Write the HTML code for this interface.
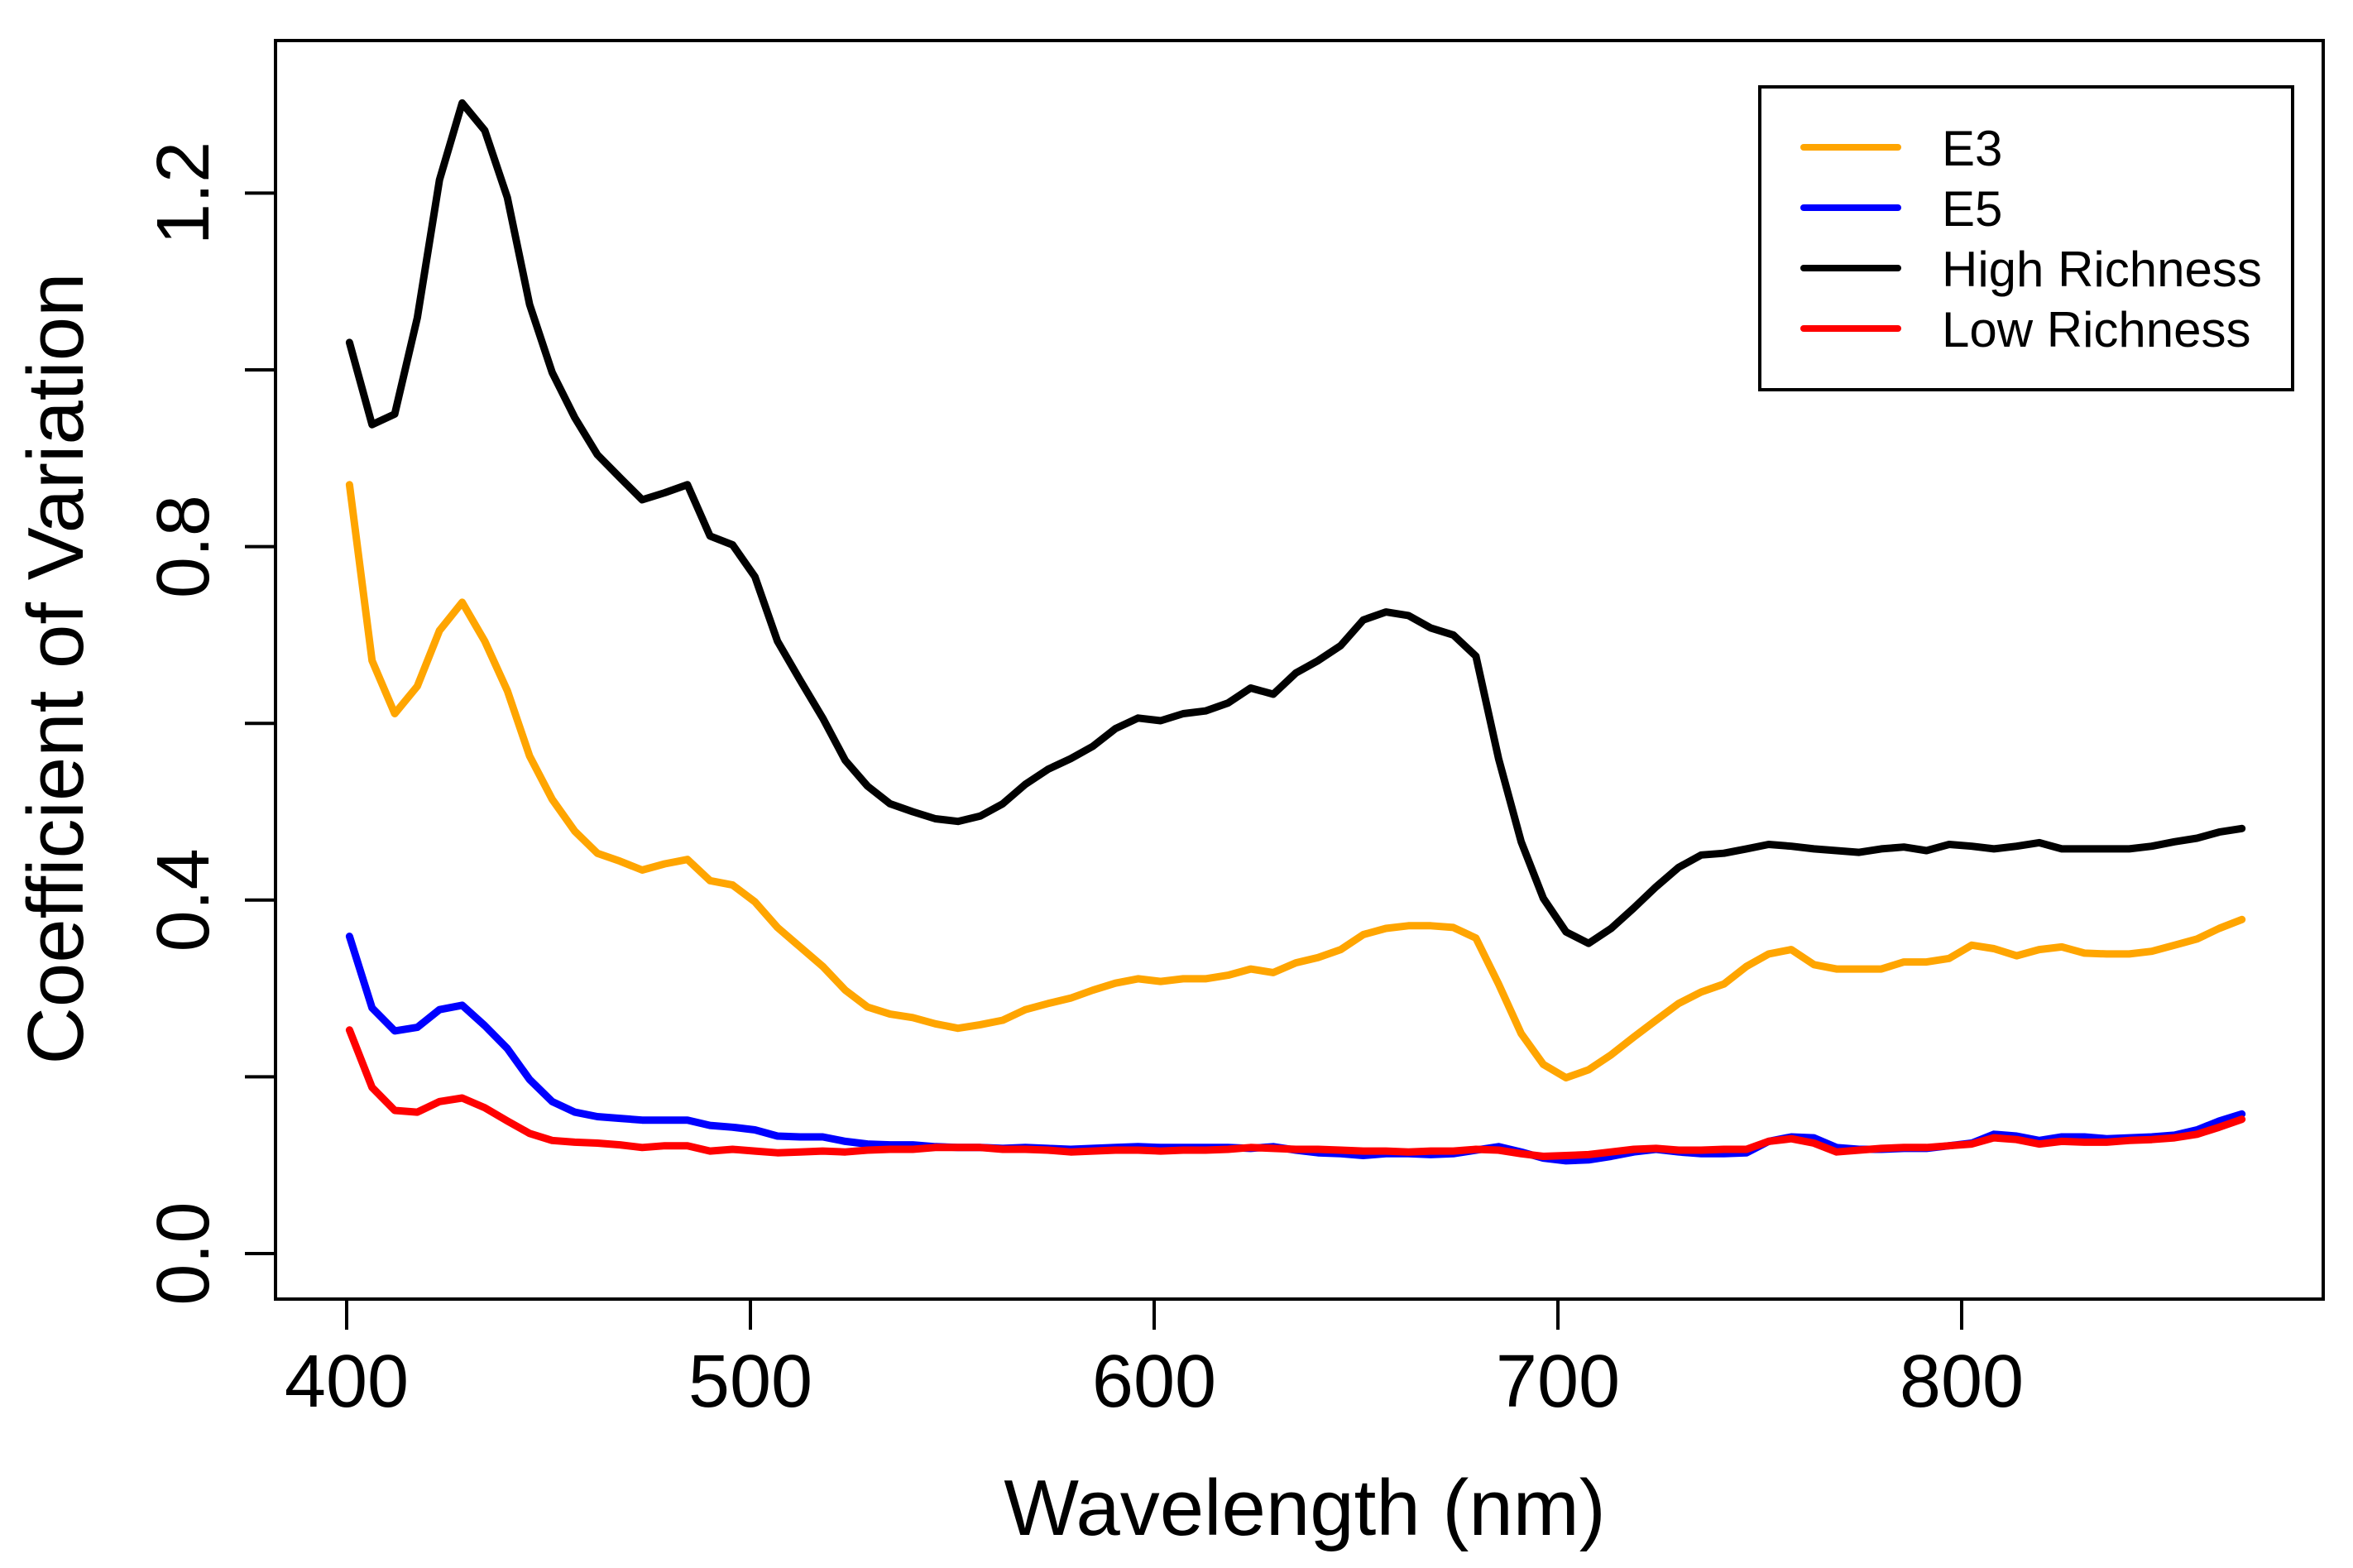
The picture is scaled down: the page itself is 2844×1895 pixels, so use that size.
<!DOCTYPE html>
<html><head><meta charset="utf-8"><style>
html,body{margin:0;padding:0;background:#fff;}
svg{display:block;font-family:"Liberation Sans",Arial,sans-serif;}
</style></head><body>
<svg id="chart" width="2844" height="1895" viewBox="0 0 2844 1895" xmlns="http://www.w3.org/2000/svg">
<rect x="0" y="0" width="2844" height="1895" fill="#fff"/>
<g id="axes"></g>
<g id="series"></g>
<g>
<rect x="2127" y="105" width="644" height="366" fill="#fff" stroke="#000" stroke-width="4"/>
<line x1="2180" y1="178" x2="2294" y2="178" stroke="#FFA500" stroke-width="8" stroke-linecap="round"/>
<line x1="2180" y1="251" x2="2294" y2="251" stroke="#0000FF" stroke-width="8" stroke-linecap="round"/>
<line x1="2180" y1="324" x2="2294" y2="324" stroke="#000" stroke-width="8" stroke-linecap="round"/>
<line x1="2180" y1="397" x2="2294" y2="397" stroke="#FF0000" stroke-width="8" stroke-linecap="round"/>
<text x="2347" y="200" font-size="60">E3</text>
<text x="2347" y="273" font-size="60">E5</text>
<text x="2347" y="346" font-size="60">High Richness</text>
<text x="2347" y="419" font-size="60">Low Richness</text>
</g>
<text x="1577" y="1855" font-size="96" text-anchor="middle">Wavelength (nm)</text>
<text transform="translate(100,808) rotate(-90)" x="0" y="0" font-size="96" text-anchor="middle">Coefficient of Variation</text>
</svg>
<script>
const wavelengths = [400.7,406.3,411.9,417.5,423.0,428.6,434.2,439.8,445.3,450.9,456.5,462.1,467.7,473.2,478.8,484.4,490.0,495.6,501.1,506.7,512.3,517.9,523.5,529.0,534.6,540.2,545.8,551.4,556.9,562.5,568.1,573.7,579.3,584.8,590.4,596.0,601.6,607.2,612.7,618.3,623.9,629.5,635.1,640.6,646.2,651.8,657.4,663.0,668.5,674.1,679.7,685.3,690.9,696.4,702.0,707.6,713.2,718.8,724.3,729.9,735.5,741.1,746.7,752.2,757.8,763.4,769.0,774.6,780.1,785.7,791.3,796.9,802.5,808.0,813.6,819.2,824.8,830.4,835.9,841.5,847.1,852.7,858.3,863.8,869.4];
const e3Values = [.870,.671,.611,.642,.705,.737,.693,.637,.563,.514,.478,.453,.444,.434,.441,.446,.422,.417,.398,.369,.347,.325,.298,.279,.271,.267,.260,.255,.259,.264,.276,.283,.289,.298,.306,.311,.308,.311,.311,.315,.322,.318,.329,.335,.344,.361,.368,.371,.371,.369,.357,.305,.249,.214,.199,.208,.225,.245,.264,.283,.296,.305,.325,.339,.344,.327,.322,.322,.322,.330,.330,.334,.349,.345,.337,.344,.347,.340,.339,.339,.342,.349,.356,.368,.378];
const e5Values = [.359,.278,.252,.256,.276,.281,.258,.232,.197,.172,.160,.155,.153,.151,.151,.151,.145,.143,.140,.133,.132,.132,.127,.124,.123,.123,.121,.120,.120,.119,.120,.119,.118,.119,.120,.121,.120,.120,.120,.120,.119,.121,.117,.114,.113,.111,.113,.113,.112,.113,.117,.121,.115,.108,.105,.106,.110,.115,.118,.115,.113,.113,.114,.127,.132,.131,.120,.118,.118,.119,.119,.122,.125,.135,.133,.128,.132,.132,.130,.131,.132,.134,.140,.150,.158];
const highValues = [1.031,.938,.950,1.059,1.215,1.302,1.271,1.195,1.074,.997,.946,.904,.878,.853,.861,.870,.812,.802,.766,.693,.649,.606,.558,.529,.509,.500,.492,.489,.495,.509,.531,.548,.560,.574,.594,.606,.603,.611,.614,.623,.640,.633,.657,.671,.688,.717,.726,.722,.708,.700,.676,.560,.466,.402,.364,.351,.368,.391,.415,.437,.451,.453,.458,.463,.461,.458,.456,.454,.458,.460,.456,.463,.461,.458,.461,.465,.458,.458,.458,.458,.461,.466,.470,.477,.481];
const lowValues = [.253,.188,.162,.160,.172,.176,.165,.150,.136,.128,.126,.125,.123,.120,.122,.122,.116,.118,.116,.114,.115,.116,.115,.117,.118,.118,.120,.120,.120,.118,.118,.117,.115,.116,.117,.117,.116,.117,.117,.118,.120,.119,.118,.118,.117,.116,.116,.115,.116,.116,.118,.117,.113,.110,.111,.112,.115,.118,.119,.117,.117,.118,.118,.127,.130,.125,.115,.117,.119,.120,.120,.122,.124,.131,.129,.124,.127,.126,.126,.128,.129,.131,.135,.143,.152];
const xTicks = [400,500,600,700,800];
const xTickLabels = ["400","500","600","700","800"];
const yTicks = [0,0.2,0.4,0.6,0.8,1.0,1.2];
const yLabelTicks = [0,0.4,0.8,1.2];
const yTickLabels = ["0.0","0.4","0.8","1.2"];

const NS = "http://www.w3.org/2000/svg";
function xScale(w){ return 419 + (w - 400) * 4.88; }
function yScale(v){ return 1515 - v * 1068; }
function mk(tag, attrs){ const e = document.createElementNS(NS, tag); for (const k in attrs) e.setAttribute(k, attrs[k]); return e; }

const axes = document.getElementById('axes');
const frame = mk('rect', {x:333, y:49, width:2475, height:1521, fill:'none', stroke:'#000', 'stroke-width':4});


axes.appendChild(frame);
xTicks.forEach((t, i) => {
  const x = xScale(t);
  const tk = mk('line', {x1:x, y1:1570, x2:x, y2:1607, stroke:'#000', 'stroke-width':4});
  
  
  axes.appendChild(tk);
  const lb = mk('text', {x:x, y:1700, 'font-size':90, 'text-anchor':'middle'});
  lb.textContent = xTickLabels[i];
  
  
  axes.appendChild(lb);
});
yTicks.forEach(t => {
  const y = yScale(t);
  const tk = mk('line', {x1:296, y1:y, x2:333, y2:y, stroke:'#000', 'stroke-width':4});
  
  
  axes.appendChild(tk);
});
yLabelTicks.forEach((t, i) => {
  const y = yScale(t);
  const lb = mk('text', {transform:'translate(252,' + y + ') rotate(-90)', x:0, y:0, 'font-size':90, 'text-anchor':'middle'});
  lb.textContent = yTickLabels[i];
  
  
  axes.appendChild(lb);
});

const seriesG = document.getElementById('series');
function drawLine(vals, color, name){
  const d = vals.map((v, i) => (i ? 'L' : 'M') + xScale(wavelengths[i]).toFixed(1) + ',' + yScale(v).toFixed(1)).join(' ');
  const p = mk('path', {d:d, fill:'none', stroke:color, 'stroke-width':9, 'stroke-linejoin':'round', 'stroke-linecap':'round'});
  
  
  seriesG.appendChild(p);
}
drawLine(e3Values, '#FFA500', 'line-e3');
drawLine(e5Values, '#0000FF', 'line-e5');
drawLine(highValues, '#000000', 'line-high-richness');
drawLine(lowValues, '#FF0000', 'line-low-richness');
</script>
</body></html>
